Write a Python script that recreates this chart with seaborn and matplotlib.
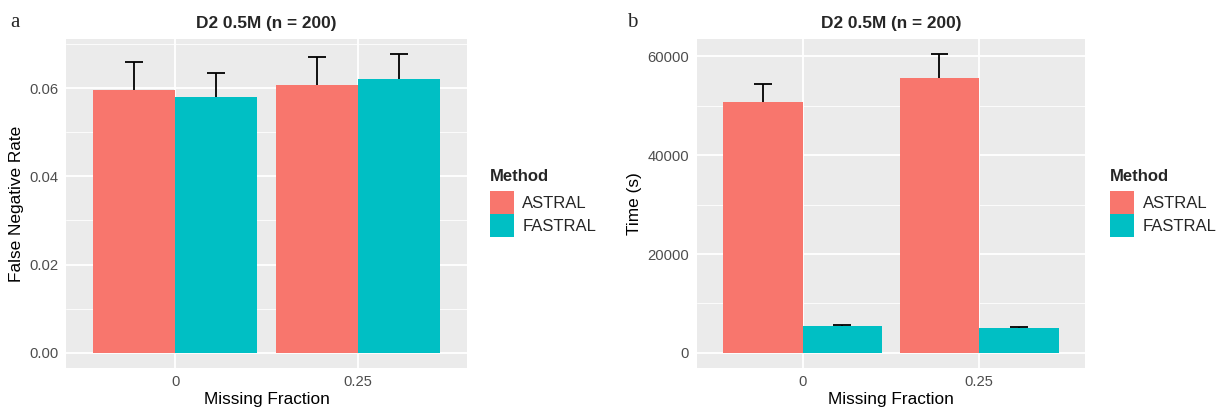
import numpy as np
import pandas as pd
import matplotlib
matplotlib.use('Agg')
import matplotlib.pyplot as plt
from matplotlib.ticker import MultipleLocator, FixedLocator
import seaborn as sns

# --- data ---
missing = ['0', '0.25']
methods = ['ASTRAL', 'FASTRAL']

fnr_astral = [0.0595, 0.0608]
fnr_astral_sd = [0.0065, 0.0062]
fnr_fastral = [0.0581, 0.0620]
fnr_fastral_sd = [0.0054, 0.0057]

time_astral = [50700, 55560]
time_astral_sd = [3700, 4900]
time_fastral = [5450, 4990]
time_fastral_sd = [150, 200]

colors = {'ASTRAL': '#F8766D', 'FASTRAL': '#00BFC4'}

sns.set_style('darkgrid', {'axes.facecolor': '#EBEBEB', 'grid.color': 'white'})
plt.rcParams['font.family'] = ['Liberation Sans', 'DejaVu Sans']

W, H = 1220, 411
fig = plt.figure(figsize=(W / 100, H / 100), dpi=100)
bot = (H - 367.7) / H
hgt = 328.4 / H
ax_a = fig.add_axes([66 / W, bot, 401 / W, hgt])
ax_b = fig.add_axes([696.7 / W, bot, 388.3 / W, hgt])


def make_df(astral, fastral):
    rows = []
    for meth, vals in zip(methods, [astral, fastral]):
        for m, v in zip(missing, vals):
            rows.append({'missing': m, 'method': meth, 'value': v})
    return pd.DataFrame(rows)


def panel(ax, astral, astral_sd, fastral, fastral_sd, ylabel, yticks, fmt,
          legend_x):
    df = make_df(astral, fastral)
    sns.barplot(data=df, x='missing', y='value', hue='method',
                order=missing, hue_order=methods, palette=colors,
                width=0.9, gap=0, errorbar=None, saturation=1,
                linewidth=0, ax=ax)

    # upper-only error bars (mean .. mean + sd), cap 0.1 wide
    tops = []
    for cont, sd in zip(ax.containers, [astral_sd, fastral_sd]):
        xs = np.array([b.get_x() + b.get_width() / 2 for b in cont])
        hs = np.array([b.get_height() for b in cont])
        ax.vlines(xs, hs, hs + sd, color='black', lw=1.3, zorder=3)
        ax.hlines(hs + sd, xs - 0.05, xs + 0.05, color='black', lw=1.3,
                  zorder=3)
        tops += list(hs + sd)
    top = max(tops)
    ax.set_ylim(-0.05 * top, 1.05 * top)
    ax.set_xlim(-0.6, 1.6)

    ax.yaxis.set_major_locator(FixedLocator(yticks))
    ax.set_yticklabels([fmt(t) for t in yticks])
    step = yticks[1] - yticks[0]
    ax.yaxis.set_minor_locator(MultipleLocator(step / 2))
    ax.set_axisbelow(True)
    ax.grid(which='major', color='white', lw=1.3)
    ax.grid(which='minor', axis='y', color='white', lw=0.6)
    ax.xaxis.grid(True, which='major', color='white', lw=1.3)
    for sp in ax.spines.values():
        sp.set_visible(False)
    ax.tick_params(which='major', length=2.9, width=0.9, color='#333333',
                   labelcolor='#4D4D4D', labelsize=10.6, pad=2.5)
    ax.tick_params(which='minor', length=0)

    ax.set_xlabel('Missing Fraction', fontsize=12.4, color='black', labelpad=2)
    ax.set_ylabel(ylabel, fontsize=12.4, color='black', labelpad=4)
    ax.set_title('D2 0.5M (n = 200)', fontsize=12.4, weight='bold', pad=8)

    sns.move_legend(ax, 'upper left', bbox_to_anchor=(legend_x / W, 1 - 161 / H),
                    bbox_transform=fig.transFigure, frameon=False,
                    title='Method', fontsize=12,
                    title_fontproperties={'weight': 'bold', 'size': 12},
                    handlelength=1.44, handleheight=1.72, labelspacing=0,
                    handletextpad=0.5, borderpad=0, alignment='left')
    leg = ax.get_legend()
    leg._legend_box.sep = 5


panel(ax_a, fnr_astral, fnr_astral_sd, fnr_fastral, fnr_fastral_sd,
      'False Negative Rate', [0.0, 0.02, 0.04, 0.06], lambda t: f'{t:.2f}',
      481.5)
panel(ax_b, time_astral, time_astral_sd, time_fastral, time_fastral_sd,
      'Time (s)', [0, 20000, 40000, 60000], lambda t: f'{int(t)}',
      1102)

fig.text(10 / W, 1 - 27 / H, 'a', family='Liberation Serif', fontsize=15,
         va='baseline', ha='left')
fig.text(627 / W, 1 - 27 / H, 'b', family='Liberation Serif', fontsize=15,
         va='baseline', ha='left')

fig.savefig('out.png', dpi=100)
